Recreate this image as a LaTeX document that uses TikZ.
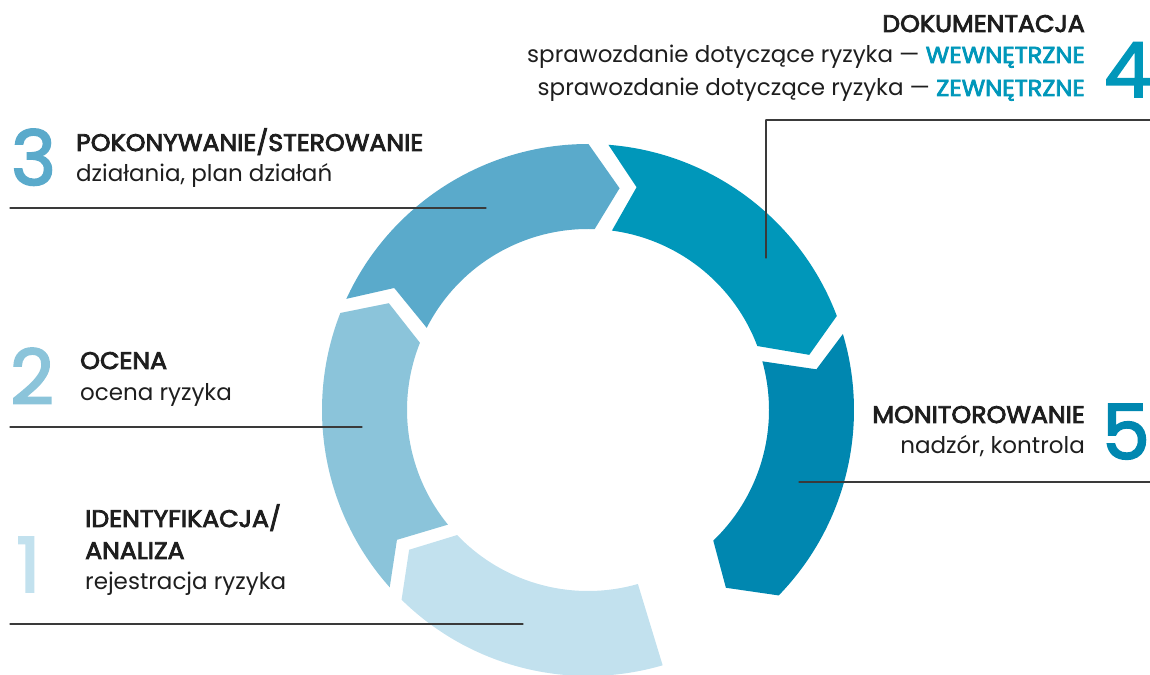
\documentclass[tikz,border=0pt]{standalone}
\usepackage{fontspec}
\setmainfont{Poppins}
\newfontfamily\numfont{Poppins}[FakeBold=2.5]
\newfontfamily\headfont{Poppins}[FakeBold=3.5,FakeStretch=1.05]
\usepackage{tikz}
\usepackage{tkz-euclide}

\definecolor{segA}{HTML}{C2E1EE}
\definecolor{segB}{HTML}{8BC4DA}
\definecolor{segC}{HTML}{5AAACB}
\definecolor{segD}{HTML}{0097BA}
\definecolor{segE}{HTML}{0087B0}
\definecolor{ink}{HTML}{1E1E1E}
\definecolor{lead}{HTML}{3A3A3A}

\tikzset{
  headtxt/.style={inner sep=0pt, font=\fontsize{24}{28}\headfont, text=ink},
  bodytxt/.style={inner sep=0pt, font=\fontsize{23}{28}\selectfont, text=ink},
  bignum/.style={inner sep=0pt, font=\fontsize{76}{80}\numfont},
  leadline/.style={line width=1.2pt, color=lead}
}

\begin{document}
\begin{tikzpicture}[x=1pt,y=1pt]
                \useasboundingbox (0,0) rectangle (1150,674);
                \tkzDefPoint(588,264){O}

                % ring of five arrows
                \begin{scope}[shift={(O)}]
                \fill[segA] (286.3:266pt) arc[start angle=286.3,end angle=225.5,radius=266pt]
                  -- (218:227pt) -- (223.7:181pt) arc[start angle=223.7,end angle=286,radius=181pt] -- cycle;
                \fill[segB] (221.8:266pt) arc[start angle=221.8,end angle=158.6,radius=266pt]
                  -- (151.8:226pt) -- (158.2:181pt) arc[start angle=158.2,end angle=219.3,radius=181pt]
                  -- (214.2:231pt) -- cycle;
                \fill[segC] (155.3:266pt) arc[start angle=155.3,end angle=89.9,radius=266pt]
                  -- (81.9:224pt) -- (87.9:181pt) arc[start angle=87.9,end angle=153,radius=181pt]
                  -- (147.8:229pt) -- cycle;
                \fill[segD] (85.6:266pt) arc[start angle=85.6,end angle=20.7,radius=266pt]
                  -- (14:228pt) -- (20.7:181pt) arc[start angle=20.7,end angle=82.4,radius=181pt]
                  -- (77.7:228pt) -- cycle;
                \fill[segE] (16.6:266pt) arc[start angle=16.6,end angle=-44.2,radius=266pt]
                  -- (-52.2:225pt) -- (-46.2:181pt) arc[start angle=-46.2,end angle=15.6,radius=181pt]
                  -- (10.1:232pt) -- cycle;
                \end{scope}

                % leader lines
                \tkzDefPoint(10,466){P3}
                \tkzDefPoint(486,466){Q3}
                \tkzDefPoint(10,247){P2}
                \tkzDefPoint(362,247){Q2}
                \tkzDefPoint(10,50){P1}
                \tkzDefPoint(523,50){Q1}
                \tkzDefPoint(766,416){P4}
                \tkzDefPoint(766,554){K4}
                \tkzDefPoint(1150,554){Q4}
                \tkzDefPoint(799,192){P5}
                \tkzDefPoint(1150,192){Q5}
                \tkzDrawSegments[leadline](P3,Q3 P2,Q2 P1,Q1 P4,K4 K4,Q4 P5,Q5)

                % step 3
                \node[bignum, text=segC, anchor=base west] (n3) at (11,489) {3};
                \node[headtxt, anchor=base west] (h3) at (76,523) {POKONYWANIE/STEROWANIE};
                \node[bodytxt, anchor=base west] (b3) at (76,492) {działania, plan działań};

                % step 2
                \node[bignum, text=segB, anchor=base west] (n2) at (10,270) {2};
                \node[headtxt, anchor=base west] (h2) at (80,305) {OCENA};
                \node[bodytxt, anchor=base west] (b2) at (80,273) {ocena ryzyka};

                % step 1
                \node[bignum, text=segA, anchor=base west] (n1) at (16,82) {1};
                \node[headtxt, anchor=base west] (h1) at (85,147) {IDENTYFIKACJA/};
                \node[headtxt, anchor=base west] (h1b) at (85,115) {ANALIZA};
                \node[bodytxt, anchor=base west] (b1) at (85,84) {rejestracja ryzyka};

                % step 4
                \node[bignum, text=segD, anchor=base east] (n4) at (1152,577) {4};
                \node[headtxt, anchor=base east] (h4) at (1085,642) {DOKUMENTACJA};
                \node[bodytxt, anchor=base east] (b4) at (1085,611) {sprawozdanie dotyczące ryzyka — {\headfont\color{segD}WEWNĘTRZNE}};
                \node[bodytxt, anchor=base east] (c4) at (1085,578) {sprawozdanie dotyczące ryzyka — {\headfont\color{segD}ZEWNĘTRZNE}};

                % step 5
                \node[bignum, text=segE, anchor=base east] (n5) at (1150,215) {5};
                \node[headtxt, anchor=base east] (h5) at (1085,251) {MONITOROWANIE};
                \node[bodytxt, anchor=base east] (b5) at (1085,220) {nadzór, kontrola};
\end{tikzpicture}
\end{document}
